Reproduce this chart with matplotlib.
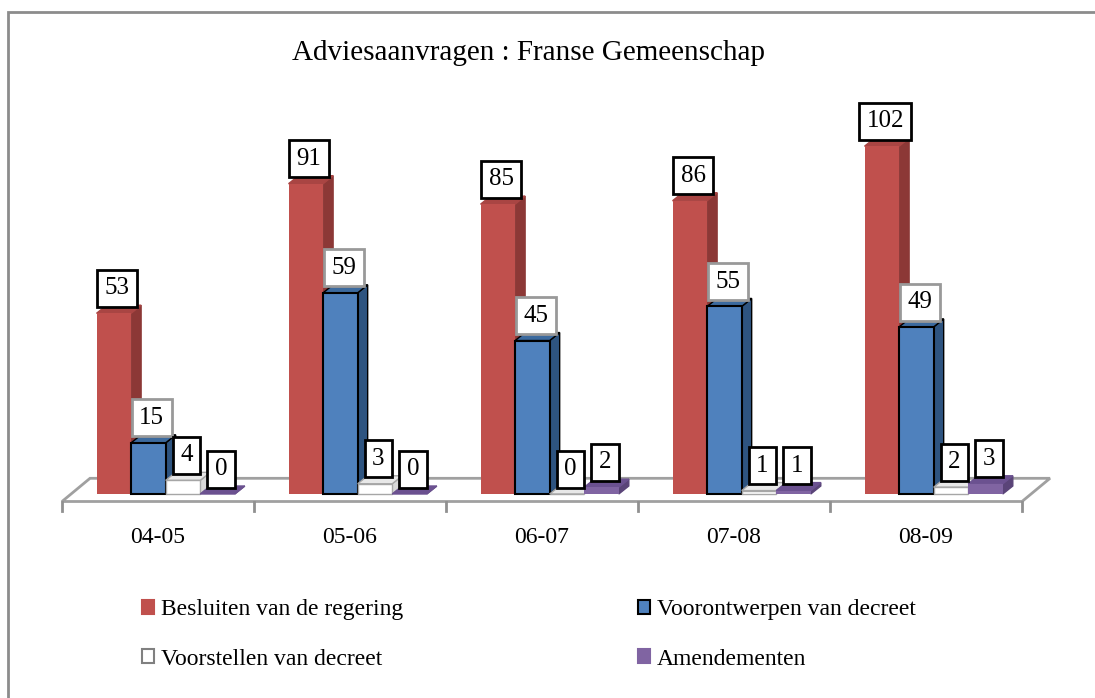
import numpy as np
from matplotlib import pyplot as plt
from matplotlib.patches import Polygon, Rectangle

categories = ["04-05", "05-06", "06-07", "07-08", "08-09"]
series_names = ["Besluiten van de regering", "Voorontwerpen van decreet",
                "Voorstellen van decreet", "Amendementen"]
besluiten = [53, 91, 85, 86, 102]
voorontwerpen = [15, 59, 45, 55, 49]
voorstellen = [4, 3, 0, 1, 2]
amendementen = [0, 0, 2, 1, 3]

plt.rcParams['font.family'] = ['Liberation Serif', 'DejaVu Serif']

W, H = 1095, 698
fig = plt.figure(figsize=(W / 100, H / 100), dpi=100)

# axes placed in pixels: x from 62 to 1022, y=0 at 494px
y0_px, scale = 494, 3.41
ymin, ymax = -3, 112
ax = fig.add_axes([62 / W, (H - y0_px - (-ymin) * scale) / H,
                   960 / W, (ymax - ymin) * scale / H])
ax.set_xlim(-0.5, 4.5)
ax.set_ylim(ymin, ymax)
ax.axis('off')

# depth of the fake 3d effect, in data units
dx, dy = 10 / 192, 8 / scale
width = 0.18
offsets = [-0.32, -0.14, 0.04, 0.22]

styles = [
    dict(fc='#C0504D', side='#8C3836', top='#A94543', ec='none', lbl_ec='black'),
    dict(fc='#4F81BD', side='#2E5480', top='#3C6A9E', ec='black', lbl_ec='#999999'),
    dict(fc='white', side='#D8D8D8', top='#E8E8E8', ec='#A6A6A6', lbl_ec='black'),
    dict(fc='#8064A2', side='#5A4478', top='#6B5190', ec='none', lbl_ec='black'),
]

# floor
front, back = -2.2, 4.6
fdx = 28 / 192
floor = Polygon([(-0.5, front), (4.5, front), (4.5 + fdx, back), (-0.5 + fdx, back)],
                closed=True, fc='white', ec='#A0A0A0', lw=2, zorder=1, clip_on=False)
ax.add_patch(floor)
for i in range(len(categories) + 1):
    ax.plot([i - 0.5, i - 0.5], [front, -5], color='#909090', lw=2,
            clip_on=False, zorder=1)

x = np.arange(len(categories))
all_series = [besluiten, voorontwerpen, voorstellen, amendementen]
for s, (vals, st) in enumerate(zip(all_series, styles)):
    xs = x + offsets[s]
    side_ec = st['side'] if st['ec'] == 'none' else st['ec']
    top_ec = st['top'] if st['ec'] == 'none' else st['ec']
    for xi, v in zip(xs, vals):
        # side face
        ax.add_patch(Polygon([(xi + width, 0), (xi + width + dx, dy),
                              (xi + width + dx, v + dy), (xi + width, v)],
                             closed=True, fc=st['side'], ec=side_ec,
                             lw=1, zorder=2 + s))
        # top face
        ax.add_patch(Polygon([(xi, v), (xi + dx, v + dy), (xi + width + dx, v + dy),
                              (xi + width, v)], closed=True, fc=st['top'],
                             ec=top_ec, lw=1, zorder=2 + s))
    ax.bar(xs, vals, width=width, align='edge', color=st['fc'],
           edgecolor=st['ec'], linewidth=1.5 if st['ec'] == 'black' else 1,
           zorder=2 + s)
    for xi, v in zip(xs, vals):
        ax.annotate(str(v), (xi + width / 2 + dx / 3, v), xytext=(0, 10),
                    textcoords='offset points', ha='center', va='bottom',
                    fontsize=18, zorder=10,
                    bbox=dict(boxstyle='square,pad=0.3', fc='white',
                              ec=st['lbl_ec'], lw=2))

for i, c in enumerate(categories):
    ax.text(i, -12.8, c, ha='center', va='center', fontsize=17)

fig.text(528 / W, 1 - 53 / H, "Adviesaanvragen : Franse Gemeenschap",
         ha='center', va='center', fontsize=21)

# legend, filled row by row
handles = [Rectangle((0, 0), 1, 1, fc=st['fc'],
                     ec=st['fc'] if st['ec'] == 'none' else ('#808080' if st['fc'] == 'white' else 'black'),
                     lw=1.5) for st in styles]
order = [0, 2, 1, 3]
fig.legend([handles[i] for i in order], [series_names[i] for i in order],
           loc='upper left', ncol=2,
           bbox_to_anchor=(121 / W, 1 - 578 / H), frameon=False,
           fontsize=17, handlelength=0.5, handleheight=0.5, handletextpad=0.3,
           columnspacing=9.95, labelspacing=1.2)

# outer frame
fig.patches.append(Rectangle((8 / W, -0.05), 1.1, 1.05 - 12 / H,
                             transform=fig.transFigure, fill=False,
                             ec='#8C8C8C', lw=2))

fig.savefig('out.png', dpi=100)
